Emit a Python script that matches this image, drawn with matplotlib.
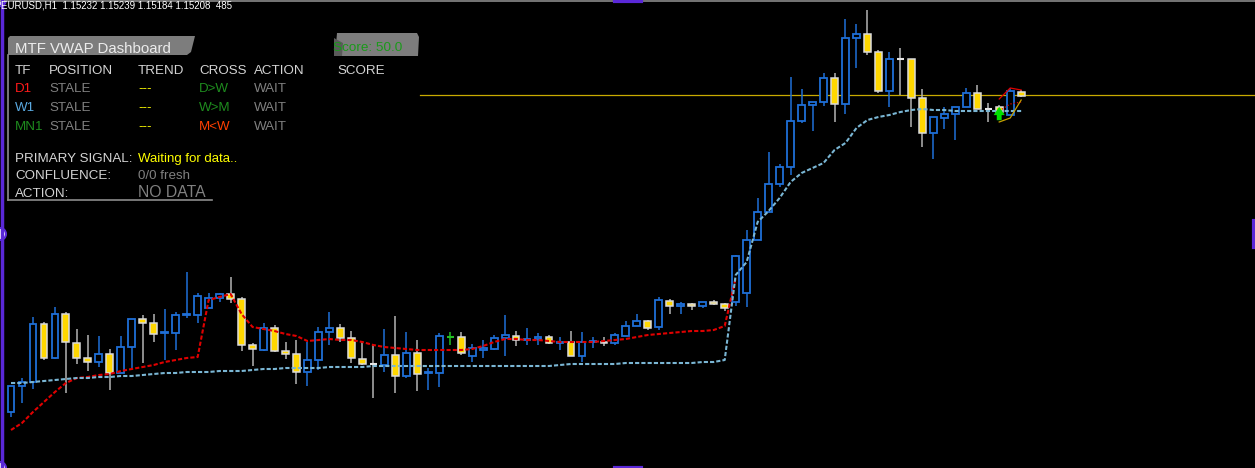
import numpy as np
import matplotlib.pyplot as plt
from matplotlib.patches import Polygon, Circle

plt.rcParams['font.family'] = ['Liberation Sans', 'DejaVu Sans']

# EURUSD H1 bars, price in chart points (higher = up)
opens = [88, 114, 118, 176, 142, 186, 157, 142, 138, 146, 127, 153, 181, 177, 167, 167, 185, 185, 192, 202,
         206, 201, 155, 150, 172, 149, 146, 128, 140, 168, 172, 162, 141, 136, 135, 145, 124, 147, 127, 127,
         163, 163, 144, 150, 151, 162, 164, 160, 161, 163, 157, 158, 144, 158, 158, 157, 164, 174, 179, 173,
         199, 194, 196, 194, 198, 196, 198, 207, 260, 288, 316, 333, 379, 395, 398, 422, 396, 462, 466, 448,
         409, 441, 441, 402, 367, 382, 386, 393, 407, 391, 393, 385, 408]
highs = [114, 122, 183, 178, 193, 188, 171, 165, 164, 151, 164, 181, 185, 186, 191, 188, 228, 207, 207, 207,
         223, 203, 157, 177, 175, 158, 160, 158, 173, 188, 176, 169, 159, 155, 171, 184, 168, 160, 132, 167,
         168, 168, 156, 160, 165, 185, 169, 172, 167, 165, 163, 169, 168, 163, 163, 167, 179, 186, 180, 203,
         201, 198, 197, 198, 200, 197, 245, 270, 302, 348, 336, 423, 411, 398, 427, 427, 481, 476, 490, 450,
         448, 452, 441, 411, 383, 393, 393, 412, 415, 397, 395, 412, 410]
lows = [83, 97, 111, 140, 141, 107, 136, 129, 133, 110, 127, 132, 137, 158, 140, 150, 182, 177, 192, 198,
        197, 149, 134, 149, 148, 141, 116, 114, 130, 155, 158, 137, 135, 102, 128, 107, 122, 109, 110, 113,
        155, 145, 138, 142, 150, 144, 154, 155, 155, 156, 150, 144, 138, 152, 154, 155, 164, 174, 170, 170,
        186, 186, 190, 192, 195, 189, 194, 193, 260, 288, 313, 325, 377, 369, 394, 378, 386, 432, 445, 407,
        393, 405, 373, 353, 341, 371, 360, 393, 391, 378, 385, 385, 403]
closes = [114, 118, 176, 142, 186, 158, 142, 138, 146, 127, 153, 181, 177, 166, 168, 185, 186, 204, 202, 206,
          201, 155, 151, 172, 149, 146, 128, 140, 168, 172, 162, 142, 136, 136, 145, 124, 147, 126, 128, 164,
          163, 147, 152, 152, 162, 165, 160, 161, 163, 157, 158, 144, 158, 159, 157, 165, 174, 179, 172, 200,
          194, 196, 194, 198, 196, 192, 244, 260, 288, 316, 333, 379, 395, 398, 422, 396, 462, 466, 448, 409,
          441, 441, 402, 367, 383, 386, 393, 407, 391, 391, 388, 409, 404]

# D1 and W1 VWAP, one value per bar
vwap_d1 = [70, 77, 88, 98, 108, 117, 122, 123, 125, 126, 129, 131, 133, 135, 138, 140, 142, 143,
           200, 203, 206, 186, 173, 171, 169, 166, 164, 159, 160, 161, 160, 160, 158, 155, 153, 152,
           151, 150, 150, 150, 150, 150, 151, 154, 158, 161, 161, 160, 160, 159, 158, 158, 158, 158,
           159, 160, 161, 163, 165, 166, 167, 168, 169, 169, 170, 174, 222] + [np.nan] * 26
vwap_w1 = [117, 117, 118, 119, 120, 121, 122, 122, 123, 123, 124, 124, 125, 126, 127, 127, 128, 128,
           128, 129, 129, 129, 130, 131, 131, 132, 132, 132, 132, 133, 133, 133, 133, 134] + [134] * 16 + \
          [135, 136, 136, 136, 136, 136] + [137] * 7 + [138, 138, 140] + \
          [225, 238, 278, 289, 302, 318, 327, 332, 337, 350, 357, 372, 380, 383, 385, 388, 390, 391,
           390, 390, 389, 389, 389, 389, 389, 389, 389]

# fresh segments on the last three bars
tail_d1 = [401, 412, 410]
tail_d1_dots = [389, 396, 398]
tail_mn1 = [378, 382, 400]

signal_bar = 40
arrow_bar = 90
arrow_from, arrow_to = 377, 396
bid_level = 405

BLUE = '#1f6fd8'
GOLD = '#ffd700'

fig = plt.figure(figsize=(12.55, 4.68), dpi=100, facecolor='black')
ax = fig.add_axes([0, 0, 1, 1])
ax.set_xlim(-11 / 10.98, 1244 / 10.98)
ax.set_ylim(32, 500)
ax.axis('off')

x = np.arange(len(opens))
o = np.array(opens, dtype=float)
c = np.array(closes, dtype=float)
bull = c > o
bear = c < o
flat = c == o

wick_c = [BLUE if b else '#b4b4b4' for b in bull]
wick_c[signal_bar] = '#22c022'
ax.vlines(x, lows, highs, colors=wick_c, lw=1.1, zorder=1)

ax.bar(x[bull], (c - o)[bull], bottom=o[bull], width=0.62, facecolor='black',
       edgecolor=BLUE, lw=1.3, zorder=2)
ax.bar(x[bear], (c - o)[bear], bottom=o[bear], width=0.62, facecolor=GOLD,
       edgecolor='#dcdcdc', lw=1.1, zorder=2)
flat_c = ['#22c022' if i == signal_bar else '#e6e6e6' for i in x[flat]]
ax.hlines(o[flat], x[flat] - 0.31, x[flat] + 0.31, colors=flat_c, lw=1.5, zorder=2)

ax.axhline(bid_level, xmin=420 / 1255, xmax=1, color='#c8aa00', lw=0.9, zorder=0.5)

ax.plot(x, vwap_d1, color='#e00000', lw=1.5, ls=(0, (2, 1)), zorder=3)
ax.plot(x, vwap_w1, color='#7ab6d4', lw=1.5, ls=(0, (2, 1)), zorder=3)

xt = x[-3:]
ax.plot(xt, tail_d1, color='#e00000', lw=0.9, zorder=3)
ax.plot(xt, tail_d1_dots, color='#e00000', lw=0.9, ls=':', zorder=3)
ax.plot(xt, tail_mn1, color='#c8a000', lw=0.9, zorder=3)

ax.annotate('', xy=(arrow_bar, arrow_to), xytext=(arrow_bar, arrow_from),
            arrowprops=dict(arrowstyle='simple,head_width=0.8,head_length=0.6,tail_width=0.35',
                            color='#00e000', lw=0), zorder=5)

# dashboard overlay in screen pixels
ov = fig.add_axes([0, 0, 1, 1])
ov.set_xlim(0, 1255)
ov.set_ylim(468, 0)
ov.axis('off')

ov.text(1, 9, 'EURUSD,H1  1.15232 1.15239 1.15184 1.15208  485', color='white', fontsize=7, va='baseline')

ov.add_patch(Polygon([(8, 38), (10, 36), (195, 36), (191, 52), (187, 55), (8, 55)],
                     closed=True, facecolor='#7d7d7d', edgecolor='none'))
ov.text(15, 53, 'MTF VWAP Dashboard', color='#ececec', fontsize=10.8, va='baseline')
ov.plot([8, 8], [55, 200], color='#8c8c8c', lw=1.2)
ov.plot([8, 212], [200, 200], color='#8c8c8c', lw=1.2)

ov.add_patch(Polygon([(337, 33), (417, 33), (419, 37), (418, 56), (335, 56)],
                     closed=True, facecolor='#7d7d7d', edgecolor='none'))
ov.text(333, 51, 'Score: 50.0', color='#1a9a1a', fontsize=9.7, va='baseline')
ov.add_patch(Polygon([(334, 38), (343, 43), (342, 56), (334, 56)],
                     closed=True, facecolor='#5a5a5a', edgecolor='none'))

fs = 9.6
LABEL = '#d4d4d4'
GREY = '#808080'
for xp, s in [(15, 'TF'), (49, 'POSITION'), (138, 'TREND'), (199, 'CROSS'), (254, 'ACTION'), (337, 'SCORE')]:
    ov.text(xp, 74, s, color=LABEL, fontsize=fs, va='baseline')

rows = [('D1', '#ff1a1a', 'D>W', '#1e8c1e', 92),
        ('W1', '#5aa9e0', 'W>M', '#1e8c1e', 111),
        ('MN1', '#1e8c1e', 'M<W', '#ff4000', 130)]
for tf, tf_c, cross, cross_c, yb in rows:
    ov.text(15, yb, tf, color=tf_c, fontsize=fs, va='baseline')
    ov.text(49, yb, 'STALE', color=GREY, fontsize=fs, va='baseline')
    ov.text(138, yb, '---', color='#ffff00', fontsize=fs, va='baseline')
    ov.text(199, yb, cross, color=cross_c, fontsize=fs, va='baseline')
    ov.text(254, yb, 'WAIT', color=GREY, fontsize=fs, va='baseline')

ov.text(15, 162, 'PRIMARY SIGNAL:', color=LABEL, fontsize=fs, va='baseline')
ov.text(138, 162, 'Waiting for data..', color='#ffff00', fontsize=9.5, va='baseline')
ov.text(15, 179, 'CONFLUENCE:', color=LABEL, fontsize=fs, va='baseline')
ov.text(138, 179, '0/0 fresh', color=GREY, fontsize=fs, va='baseline')
ov.text(15, 197, 'ACTION:', color=LABEL, fontsize=fs, va='baseline')
ov.text(138, 197, 'NO DATA', color=GREY, fontsize=11.3, va='baseline')

# window frame and handles
ov.plot([0, 1255], [0.6, 0.6], color='#8a8a8a', lw=1.2)
ov.plot([1.5, 1.5], [0, 468], color='#5a28d8', lw=2.5)
for cx, cy in [(0, 234), (0, 468), (0, 0)]:
    ov.add_patch(Circle((cx, cy), 6, facecolor='white', edgecolor='#5a28d8', lw=1.5))
ov.plot([615, 641], [0.5, 0.5], color='#5a28d8', lw=3)
ov.plot([615, 641], [467.5, 467.5], color='#5a28d8', lw=3)
ov.plot([1254, 1254], [221, 247], color='#5a28d8', lw=3)

fig.savefig('out.png', dpi=100, facecolor='black')
